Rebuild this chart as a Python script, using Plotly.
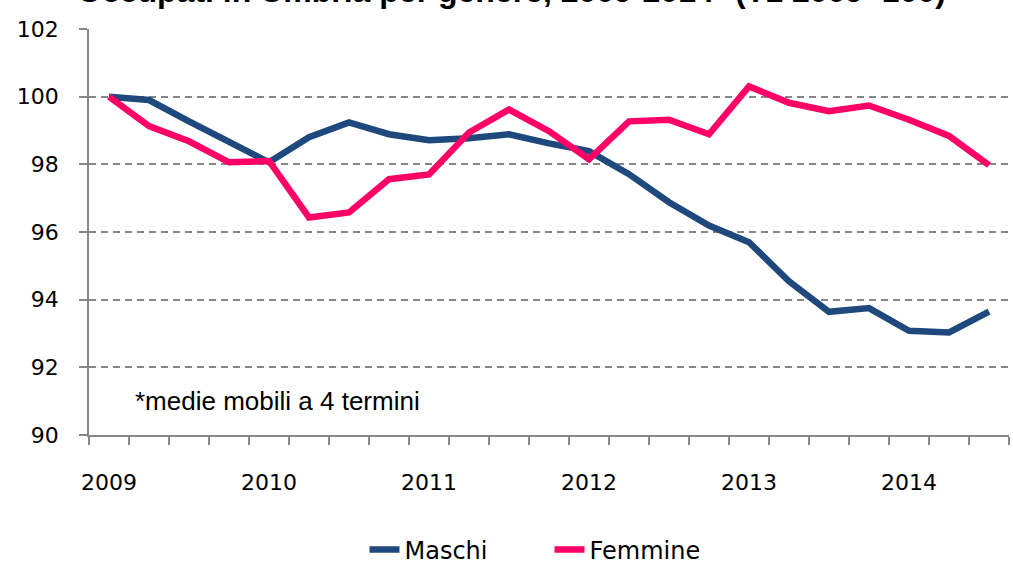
import plotly.graph_objects as go

years = ["2009", "2010", "2011", "2012", "2013", "2014"]
quarters = list(range(23))  # I trim 2009 .. III trim 2014

maschi = [100.0, 99.9, 99.27, 98.65, 98.06, 98.8, 99.24, 98.89, 98.71, 98.77, 98.89,
          98.62, 98.39, 97.71, 96.88, 96.19, 95.7, 94.54, 93.64, 93.75, 93.08, 93.03, 93.65]
femmine = [100.0, 99.13, 98.68, 98.06, 98.1, 96.43, 96.58, 97.56, 97.7, 98.94, 99.62,
           98.98, 98.15, 99.27, 99.32, 98.89, 100.3, 99.82, 99.57, 99.74, 99.32, 98.84, 97.98]

y_ticks = [90, 92, 94, 96, 98, 100, 102]

BLUE = "#1F497D"
PINK = "#FF0066"
GRAY = "#868686"
ARIAL = "Liberation Sans, Arial, sans-serif"
WIDE = "DejaVu Sans, sans-serif"

fig = go.Figure()
fig.add_trace(go.Scatter(x=quarters, y=maschi, mode="lines", name="Maschi",
                         line=dict(color=BLUE, width=6.5)))
fig.add_trace(go.Scatter(x=quarters, y=femmine, mode="lines", name="Femmine",
                         line=dict(color=PINK, width=6.5)))

fig.add_annotation(text="*medie mobili a 4 termini", xref="paper", yref="y",
                   x=0.048, y=91.0, xanchor="left", yanchor="middle", showarrow=False,
                   font=dict(family=ARIAL, size=26, color="#000000"))

# chart title, mostly cut off at the top edge as in the reference
fig.add_annotation(text="<b>Occupati in Umbria per genere, 2009-2014* (T1 2009=100)</b>",
                   xref="paper", yref="paper", x=(75 - 89) / 919, y=1 + 38 / 406,
                   xanchor="left", yanchor="middle", showarrow=False,
                   font=dict(family=ARIAL, size=32, color="#000000"))

fig.update_layout(
    width=1013, height=565,
    margin=dict(l=89, r=4, t=29, b=130),
    paper_bgcolor="white", plot_bgcolor="white",
    font=dict(family=WIDE, size=22, color="#000000"),
    showlegend=True,
    legend=dict(orientation="h", x=(549 - 89) / 919, xanchor="center", yref="container",
                y=1 - 550 / 565, yanchor="middle", font=dict(family=WIDE, size=24),
                traceorder="normal", entrywidth=140, entrywidthmode="pixels"),
    xaxis=dict(range=[-0.5, 22.5], tickmode="array",
               tickvals=[4 * i for i in range(len(years))], ticktext=years,
               ticks="", showgrid=False, zeroline=False,
               showline=True, linecolor=GRAY, linewidth=1.5,
               ticklabelstandoff=27,
               minor=dict(tickmode="array", tickvals=[i - 0.5 for i in range(24)],
                          ticks="outside", ticklen=8, tickwidth=1.5, tickcolor=GRAY,
                          showgrid=False)),
    yaxis=dict(range=[90, 102], tickmode="array", tickvals=y_ticks,
               ticktext=[str(v) for v in y_ticks],
               ticks="outside", ticklen=8, tickwidth=1.5, tickcolor=GRAY,
               showgrid=True, gridcolor=GRAY, gridwidth=1.5, griddash="7px,5px",
               zeroline=False, showline=True, linecolor=GRAY, linewidth=1.5,
               ticklabelstandoff=16),
)

fig.write_html("out.html", config={"displayModeBar": False},
               post_script="document.body.style.margin='0';document.body.style.padding='0';document.body.style.overflow='hidden';")
